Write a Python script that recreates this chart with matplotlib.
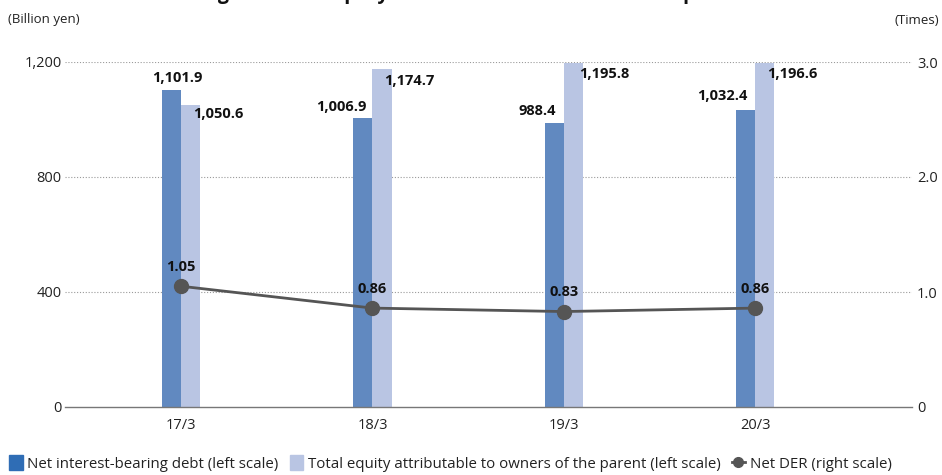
import matplotlib
matplotlib.use("Agg")
import matplotlib.pyplot as plt
from matplotlib.patches import Patch
from matplotlib.lines import Line2D

plt.rcParams['font.family'] = ['Open Sans', 'DejaVu Sans']

title = "Net interest-bearing debt and equity attributable to owners of the parent"
categories = ["17/3", "18/3", "19/3", "20/3"]
debt = [1101.9, 1006.9, 988.4, 1032.4]
equity = [1050.6, 1174.7, 1195.8, 1196.6]
der = [1.05, 0.86, 0.83, 0.86]
left_ticks = [0, 400, 800, 1200]
left_ticklabels = ["0", "400", "800", "1,200"]
right_ticks = [0, 1.0, 2.0, 3.0]
right_ticklabels = ["0", "1.0", "2.0", "3.0"]

dark = "#6189C0"
light = "#B9C5E3"
legend_dark = "#2F6DB5"
line_c = "#555555"
txt_c = "#222222"

fig = plt.figure(figsize=(9.42, 4.75), dpi=100)
ax = fig.add_axes([65/942, 1-407/475, 847/942, 345/475])
ax2 = ax.twinx()

x = list(range(len(categories)))
w = 0.1
ax.bar([i - w/2 for i in x], debt, width=w, color=dark, zorder=2)
ax.bar([i + w/2 for i in x], equity, width=w, color=light, zorder=2)
ax.set_ylim(0, 1200)
ax.set_xlim(-0.607, 3.82)
ax.set_yticks(left_ticks)
ax.set_yticklabels(left_ticklabels, fontsize=10.5, color=txt_c)
ax.set_xticks(x)
ax.set_xticklabels(categories, fontsize=10.5, color=txt_c)
ax.tick_params(axis='x', length=0, pad=8)
ax.tick_params(axis='y', length=0, pad=2.5)
for y in [400, 800, 1200]:
    ax.axhline(y, color="#9a9a9a", lw=0.8, ls=(0, (1, 1.6)), zorder=1)
for s in ["top", "right", "left"]:
    ax.spines[s].set_visible(False)
ax.spines["bottom"].set_color("#777777")
ax.spines["bottom"].set_linewidth(1.0)

ax2.plot(x, der, color=line_c, lw=2, marker="o", markersize=10, zorder=5)
ax2.set_ylim(0, 3.0)
ax2.set_yticks(right_ticks)
ax2.set_yticklabels(right_ticklabels, fontsize=10.5, color=txt_c)
ax2.tick_params(axis='y', length=0, pad=3.5)
for s in ["top", "right", "left", "bottom"]:
    ax2.spines[s].set_visible(False)

lab_kw = dict(fontsize=10.5, fontweight="bold", color="#111111")
px = 0.72  # points per pixel
# debt labels: (dx px, dy px, ha)
debt_off = [(6, 5, "center"), (4, 4, "right"), (2, 5, "right"), (2, 7, "right")]
for i, (v, (dx, dy, ha)) in enumerate(zip(debt, debt_off)):
    ax.annotate(f"{v:,.1f}", (i - w/2, min(v, 1200)), xytext=(dx*px, dy*px),
                textcoords="offset points", ha=ha, va="bottom", **lab_kw)
eq_off = [(2, -9), (2, -12), (6, -11), (2, -11)]
for i, (v, (dx, dy)) in enumerate(zip(equity, eq_off)):
    ax.annotate(f"{v:,.1f}", (i + w/2, min(v, 1200)), xytext=(dx*px, dy*px),
                textcoords="offset points", ha="left", va="center", **lab_kw)
for i, v in enumerate(der):
    ax2.annotate(f"{v:.2f}", (i, v), xytext=(0, 9), textcoords="offset points",
                 ha="center", va="bottom", **lab_kw)

fig.text(30/942, 1+1.5/475, title, fontsize=14, fontweight="bold", color="#111111",
         va="baseline", ha="left")
fig.text(8/942, 1-20/475, "(Billion yen)", fontsize=9.5, color=txt_c, va="center")
fig.text(939/942, 1-20/475, "(Times)", fontsize=9.5, color=txt_c, va="center", ha="right")

handles = [Patch(color=legend_dark), Patch(color=light),
           Line2D([0], [0], color=line_c, lw=2, marker="o", markersize=7)]
labels = ["Net interest-bearing debt (left scale)",
          "Total equity attributable to owners of the parent (left scale)",
          "Net DER (right scale)"]
fig.legend(handles, labels, loc="lower left", bbox_to_anchor=(0.0, -0.012), ncol=3,
           frameon=False, fontsize=10.8, handlelength=0.9, handleheight=1.1,
           handletextpad=0.3, columnspacing=0.75, borderaxespad=0.2,
           labelcolor=txt_c)

fig.savefig("out.png", dpi=100)
